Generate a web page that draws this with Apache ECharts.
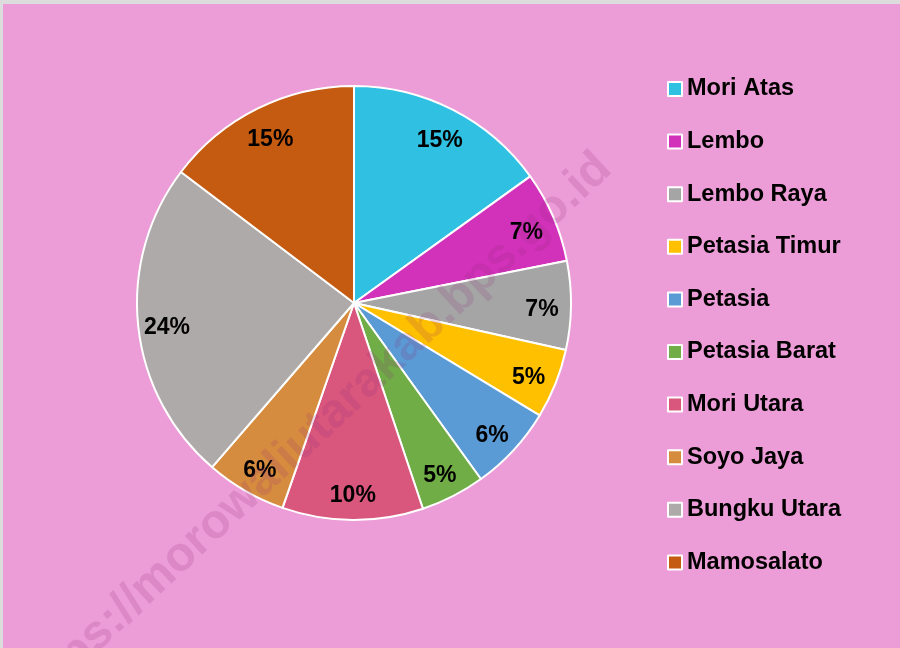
<!DOCTYPE html>
<html>
<head>
<meta charset="utf-8">
<script src="https://cdn.jsdelivr.net/npm/echarts@6/dist/echarts.min.js"></script>
<style>
  html, body { margin: 0; padding: 0; background: #dcdcdc; }
  #main { position: absolute; left: 3px; top: 4px; width: 897px; height: 644px; }
</style>
</head>
<body>
<div id="main"></div>
<script>
// kecamatan and their share (%)
let districts = ['Mori Atas', 'Lembo', 'Lembo Raya', 'Petasia Timur', 'Petasia',
    'Petasia Barat', 'Mori Utara', 'Soyo Jaya', 'Bungku Utara', 'Mamosalato'];
let shares = [15.1, 6.8, 6.6, 5.2, 6.4, 4.8, 10.5, 6.0, 24.0, 14.7];
let colors = ['#2fc0e2', '#d232ba', '#a5a5a5', '#ffc000', '#5b9bd5',
    '#70ad47', '#d9567d', '#d68c3e', '#aeaaaa', '#c55a11'];

let chartDom = document.getElementById('main');
let myChart = echarts.init(chartDom);
let option;

let pieData = districts.map(function (name, i) {
    return { name: name, value: shares[i], itemStyle: { color: colors[i] } };
});

option = {
    animation: false,
    backgroundColor: '#ec9cd6',
    legend: {
        orient: 'vertical',
        left: 659,
        top: 68,
        icon: 'rect',
        itemWidth: 14,
        itemHeight: 14,
        itemGap: 28.6,
        itemStyle: {
            borderColor: '#ffffff',
            borderWidth: 2
        },
        textStyle: {
            fontFamily: '"Liberation Sans", Arial, sans-serif',
            fontWeight: 'bold',
            fontSize: 23.5,
            lineHeight: 24,
            color: '#000'
        },
        data: districts
    },
    graphic: [
        {
            // watermark
            type: 'text',
            x: 585,
            y: 140,
            rotation: 43 * Math.PI / 180,
            z: 100,
            silent: true,
            style: {
                text: 'https://morowaliutarakab.bps.go.id',
                font: 'bold 48px "Liberation Sans", Arial, sans-serif',
                fill: 'rgba(140, 40, 120, 0.17)',
                align: 'right',
                verticalAlign: 'top'
            }
        }
    ],
    series: [
        {
            name: 'Kecamatan',
            type: 'pie',
            center: [351, 299],
            radius: [0, 217],
            startAngle: 90,
            clockwise: true,
            label: { show: false },
            labelLine: { show: false },
            itemStyle: {
                borderColor: '#ffffff',
                borderWidth: 2
            },
            emphasis: { disabled: true },
            data: pieData
        },
        {
            // only carries the percent labels, pushed out towards the rim
            name: 'Label',
            type: 'pie',
            center: [351, 299],
            radius: [153, 217],
            startAngle: 90,
            clockwise: true,
            silent: true,
            itemStyle: { color: 'transparent' },
            emphasis: { disabled: true },
            label: {
                show: true,
                position: 'inside',
                offset: [0, 5],
                fontFamily: '"Liberation Sans", Arial, sans-serif',
                fontWeight: 'bold',
                fontSize: 23,
                color: '#000',
                formatter: function (p) {
                    return Math.round(p.percent) + '%';
                }
            },
            labelLine: { show: false },
            data: districts.map(function (name, i) {
                return { name: name, value: shares[i] };
            })
        }
    ]
};

option && myChart.setOption(option);
</script>
</body>
</html>
